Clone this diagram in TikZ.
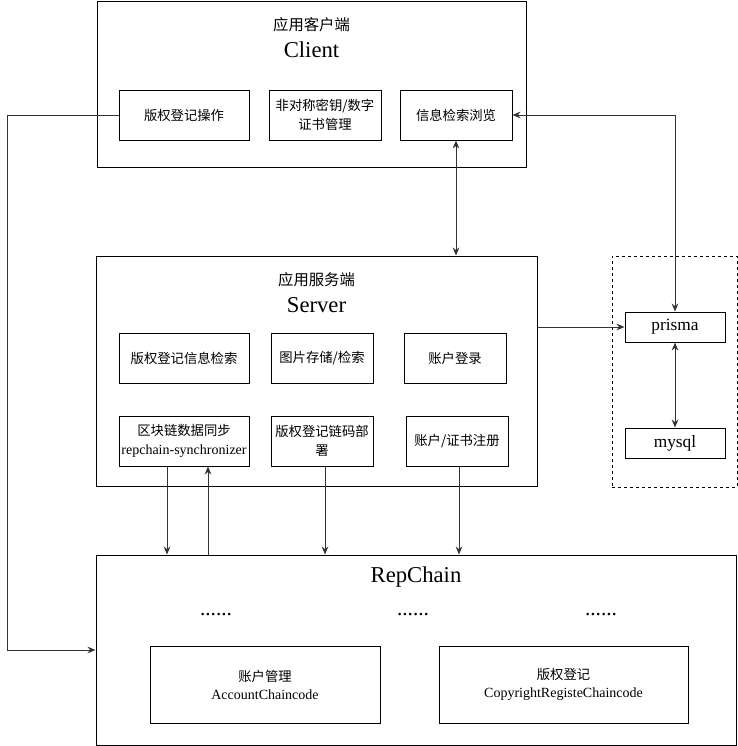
\documentclass[tikz,border=0pt]{standalone}
\usepackage{fontspec}
\setmainfont{Liberation Serif}
\newfontfamily\cjk{Noto Sans CJK SC}
\usetikzlibrary{arrows.meta}

\begin{document}
\begin{tikzpicture}[
  x=0.75pt, y=-0.75pt,
  outer/.style={draw, line width=0.75pt, inner sep=0pt},
  box/.style={draw, line width=0.75pt, inner sep=1pt, minimum height=37.5pt, align=center, font=\cjk\fontsize{10}{14}\selectfont},
  db/.style={draw, line width=0.75pt, inner sep=0pt, minimum width=75pt, minimum height=22.5pt, font=\fontsize{13}{15}\selectfont},
  chain/.style={draw, line width=0.75pt, inner sep=1pt, minimum height=57.75pt, align=center, font=\cjk\fontsize{10}{13.5}\selectfont},
  zh/.style={font=\cjk\fontsize{11.5}{14}\selectfont},
  en/.style={font=\fontsize{17}{20}\selectfont},
  dots/.style={font=\fontsize{16}{18}\selectfont, anchor=base},
  edge/.style={-{Stealth[length=6pt, width=5pt]}, line width=0.75pt, black!80},
  both/.style={edge, {Stealth[length=6pt, width=5pt]}-{Stealth[length=6pt, width=5pt]}},
]
\useasboundingbox (0,0) rectangle (738,746);

% --- Client (top) ---
\node[outer, minimum width=321.75pt, minimum height=124.5pt] (cli) at (311.5,84) {};
\node[zh] (clizh) at (311.5,25) {应用客户端};
\node[en] (clien) at (311.5,50) {Client};
\node[box, minimum width=97.5pt] (cop) at (184,115) {版权登记操作};
\node[box, minimum width=84pt] (ckey) at (325,115) {非对称密钥/数字\\证书管理};
\node[box, minimum width=84pt] (cview) at (456,115) {信息检索浏览};

% --- Server (middle) ---
\node[outer, minimum width=330.75pt, minimum height=172.5pt] (srv) at (316.5,371) {};
\node[zh] (srvzh) at (316.5,280) {应用服务端};
\node[en] (srven) at (316.5,305) {Server};
\node[box, minimum width=97.5pt] (sfind) at (184,358) {版权登记信息检索};
\node[box, minimum width=76.5pt] (spic) at (322,358) {图片存储/检索};
\node[box, minimum width=76.5pt] (slogin) at (455,358) {账户登录};
\node[box, minimum width=97.5pt] (ssync) at (184,441) {区块链数据同步\\{\rmfamily\fontsize{10.5}{15}\selectfont repchain-synchronizer}};
\node[box, minimum width=76.5pt] (sdeploy) at (322,441) {版权登记链码部\\署};
\node[box, minimum width=76.5pt] (sreg) at (457,441) {账户/证书注册};

% --- Storage (right) ---
\node[outer, dash pattern=on 2.25pt off 2.25pt, minimum width=93.75pt, minimum height=173.25pt] (store) at (674.5,371.5) {};
\node[db] (prisma) at (675,327) {prisma};
\node[db] (mysql) at (675,443) {mysql};

% --- RepChain (bottom) ---
\node[outer, minimum width=480pt, minimum height=142.5pt] (rep) at (416,650) {};
\node[en] (repen) at (416,577) {RepChain};
\node[dots] (dots1) at (216,615) {......};
\node[dots] (dots2) at (413,615) {......};
\node[dots] (dots3) at (601,615) {......};
\node[chain, minimum width=172.5pt] (acct) at (265,684.5) {账户管理\\{\rmfamily\fontsize{10.5}{13.5}\selectfont AccountChaincode}};
\node[chain, minimum width=186.75pt] (copy) at (563.5,684.5) {版权登记\\{\rmfamily\fontsize{10.5}{13.5}\selectfont CopyrightRegisteChaincode}};

% --- Connectors ---
\coordinate (lbend) at (7,115);
\draw[edge] (cop.west) -- (lbend) |- (rep.west);
\draw[both] (cview.east) -| (prisma.north);
\draw[both] (cview.south) -- (cview.south |- srv.north);
\draw[edge] (srv.east |- prisma.west) -- (prisma.west);
\draw[both] (prisma.south) -- (mysql.north);
\draw[edge] ([xshift=-12.75pt]ssync.south) -- ([xshift=-12.75pt]ssync.south |- rep.north);
\draw[edge] ([xshift=18pt]ssync.south |- rep.north) -- ([xshift=18pt]ssync.south);
\draw[edge] ([xshift=2.25pt]sdeploy.south) -- ([xshift=2.25pt]sdeploy.south |- rep.north);
\draw[edge] ([xshift=1.5pt]sreg.south) -- ([xshift=1.5pt]sreg.south |- rep.north);

\end{tikzpicture}
\end{document}
